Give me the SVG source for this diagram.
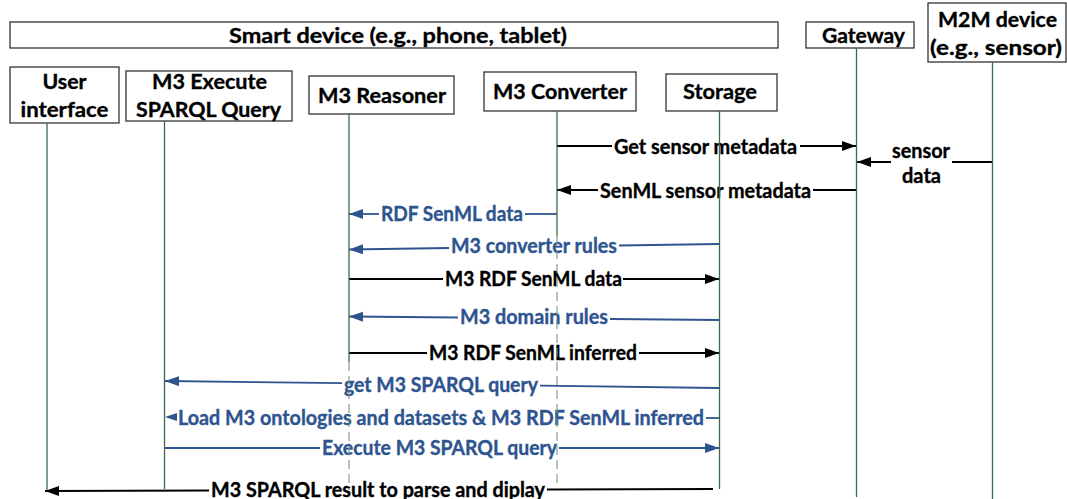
<svg xmlns="http://www.w3.org/2000/svg" width="1067" height="499" viewBox="0 0 1067 499">
<style>
.box{fill:#fff;stroke:#333;stroke-width:1.3}
.t{font-family:Lato,"Open Sans","Liberation Sans",sans-serif;font-weight:bold;font-size:21.5px;fill:#000;stroke:#000;stroke-width:0.35}
.tm{font-family:Lato,"Open Sans","Liberation Sans",sans-serif;font-weight:bold;font-size:20px;fill:#000;stroke:#000;stroke-width:0.35}
.blue{fill:#2E5490;stroke:#2E5490}
.life{stroke:#3C6A4A;stroke-width:1.3;fill:none}
.faint{stroke:#7A9682;stroke-width:1.1;stroke-dasharray:9 5;fill:none}
.mk{stroke:#000;stroke-width:1.8;fill:none}
.mu{stroke:#2E5490;stroke-width:1.8;fill:none}
</style>
<defs>
<marker id="ahK" markerUnits="userSpaceOnUse" markerWidth="15" markerHeight="11" refX="14" refY="5" orient="auto"><path d="M0,0 L14,5 L0,10 z" fill="#000"/></marker>
<marker id="ahU" markerUnits="userSpaceOnUse" markerWidth="15" markerHeight="11" refX="14" refY="5" orient="auto"><path d="M0,0 L14,5 L0,10 z" fill="#2E5490"/></marker>
</defs>
<rect width="1067" height="499" fill="#fff"/>

<g id="connectors">
  <line class="mk" x1="557" y1="146" x2="612" y2="146"/>
  <line class="mk" x1="800" y1="146" x2="856" y2="146" marker-end="url(#ahK)"/>
  <text class="tm" x="614" y="154" textLength="183" lengthAdjust="spacingAndGlyphs">Get sensor metadata</text>
  <line class="mk" x1="992" y1="162" x2="952" y2="162"/>
  <line class="mk" x1="891" y1="162" x2="857" y2="162" marker-end="url(#ahK)"/>
  <text class="tm" x="892" y="158" textLength="58" lengthAdjust="spacingAndGlyphs">sensor</text>
  <text class="tm" x="902" y="183" textLength="39" lengthAdjust="spacingAndGlyphs">data</text>
  <line class="mk" x1="856" y1="190" x2="813" y2="190"/>
  <line class="mk" x1="598" y1="190" x2="557" y2="190" marker-end="url(#ahK)"/>
  <text class="tm" x="600" y="198" textLength="211" lengthAdjust="spacingAndGlyphs">SenML sensor metadata</text>
  <line class="mu" x1="557" y1="214" x2="525" y2="214"/>
  <line class="mu" x1="379" y1="214" x2="349" y2="214" marker-end="url(#ahU)"/>
  <text class="tm blue" x="381" y="221" textLength="142" lengthAdjust="spacingAndGlyphs">RDF SenML data</text>
  <line class="mu" x1="719" y1="244" x2="619" y2="245.5"/>
  <line class="mu" x1="449" y1="248" x2="349" y2="249.5" marker-end="url(#ahU)"/>
  <text class="tm blue" x="451" y="253" textLength="166" lengthAdjust="spacingAndGlyphs">M3 converter rules</text>
  <line class="mk" x1="349" y1="279" x2="443" y2="279"/>
  <line class="mk" x1="623" y1="279" x2="719" y2="279" marker-end="url(#ahK)"/>
  <text class="tm" x="445" y="286" textLength="177" lengthAdjust="spacingAndGlyphs">M3 RDF SenML data</text>
  <line class="mu" x1="719" y1="320" x2="610" y2="319"/>
  <line class="mu" x1="458" y1="317.5" x2="349" y2="316.5" marker-end="url(#ahU)"/>
  <text class="tm blue" x="460" y="324" textLength="148" lengthAdjust="spacingAndGlyphs">M3 domain rules</text>
  <line class="mk" x1="349" y1="353" x2="427" y2="353"/>
  <line class="mk" x1="639" y1="353" x2="719" y2="353" marker-end="url(#ahK)"/>
  <text class="tm" x="429" y="360" textLength="208" lengthAdjust="spacingAndGlyphs">M3 RDF SenML inferred</text>
  <line class="mu" x1="719" y1="388" x2="540" y2="385.7"/>
  <line class="mu" x1="342" y1="383.2" x2="165" y2="381" marker-end="url(#ahU)"/>
  <text class="tm blue" x="344" y="392" textLength="194" lengthAdjust="spacingAndGlyphs">get M3 SPARQL query</text>
  <line class="mu" x1="719" y1="418" x2="706" y2="418"/>
  <path d="M165,417 L177,413 L177,421 z" fill="#2E5490"/>
  <text class="tm blue" x="178" y="425" textLength="526" lengthAdjust="spacingAndGlyphs">Load M3 ontologies and datasets &amp; M3 RDF SenML inferred</text>
  <line class="mu" x1="165" y1="448" x2="320" y2="448"/>
  <line class="mu" x1="559" y1="448" x2="719" y2="448" marker-end="url(#ahU)"/>
  <text class="tm blue" x="322" y="455" textLength="235" lengthAdjust="spacingAndGlyphs">Execute M3 SPARQL query</text>
  <line class="mk" x1="713" y1="489" x2="547" y2="489.5" style="stroke-width:2.2"/>
  <line class="mk" x1="209" y1="490.5" x2="45" y2="491" style="stroke-width:2.2" marker-end="url(#ahK)"/>
  <text class="tm" x="211" y="497" textLength="334" lengthAdjust="spacingAndGlyphs">M3 SPARQL result to parse and diplay</text>
</g>

<g id="smart-device">
  <rect class="box" x="10" y="22" width="768" height="26"/>
  <text class="t" x="229" y="43" textLength="338" lengthAdjust="spacingAndGlyphs">Smart device (e.g., phone, tablet)</text>
</g>

<g id="user-interface">
  <rect class="box" x="10" y="67" width="109" height="56"/>
  <text class="t" x="42.5" y="89" textLength="44" lengthAdjust="spacingAndGlyphs">User</text>
  <text class="t" x="20.5" y="117" textLength="88" lengthAdjust="spacingAndGlyphs">interface</text>
  <line class="life" x1="47" y1="123" x2="47" y2="490"/>
</g>

<g id="m3-execute">
  <rect class="box" x="126" y="71" width="166" height="50"/>
  <text class="t" x="152" y="89" textLength="115" lengthAdjust="spacingAndGlyphs">M3 Execute</text>
  <text class="t" x="136" y="117" textLength="145" lengthAdjust="spacingAndGlyphs">SPARQL Query</text>
  <line class="life" x1="164.5" y1="121" x2="164.5" y2="489"/>
</g>

<g id="m3-reasoner">
  <rect class="box" x="309" y="76" width="145" height="38"/>
  <text class="t" x="318" y="103" textLength="128" lengthAdjust="spacingAndGlyphs">M3 Reasoner</text>
  <line class="life" x1="349" y1="114" x2="349" y2="362"/>
  <line class="faint" x1="349" y1="362" x2="349" y2="490"/>
</g>

<g id="m3-converter">
  <rect class="box" x="484" y="72" width="152" height="39"/>
  <text class="t" x="493" y="99" textLength="134" lengthAdjust="spacingAndGlyphs">M3 Converter</text>
  <line class="life" x1="557" y1="111" x2="557" y2="236"/>
  <line class="faint" x1="557" y1="236" x2="557" y2="489"/>
</g>

<g id="storage">
  <rect class="box" x="666" y="74" width="111" height="37"/>
  <text class="t" x="683" y="99" textLength="74" lengthAdjust="spacingAndGlyphs">Storage</text>
  <line class="life" x1="719.5" y1="111" x2="719.5" y2="489"/>
</g>

<g id="gateway">
  <rect class="box" x="806" y="22" width="108" height="26"/>
  <text class="t" x="822" y="43" textLength="83" lengthAdjust="spacingAndGlyphs">Gateway</text>
  <line class="life" x1="856.5" y1="48" x2="856.5" y2="497"/>
</g>

<g id="m2m-device">
  <rect class="box" x="928" y="3" width="138" height="59"/>
  <text class="t" x="938" y="27" textLength="119" lengthAdjust="spacingAndGlyphs">M2M device</text>
  <text class="t" x="930" y="55" textLength="132" lengthAdjust="spacingAndGlyphs">(e.g., sensor)</text>
  <line class="life" x1="992.5" y1="62" x2="992.5" y2="499"/>
</g>
</svg>
